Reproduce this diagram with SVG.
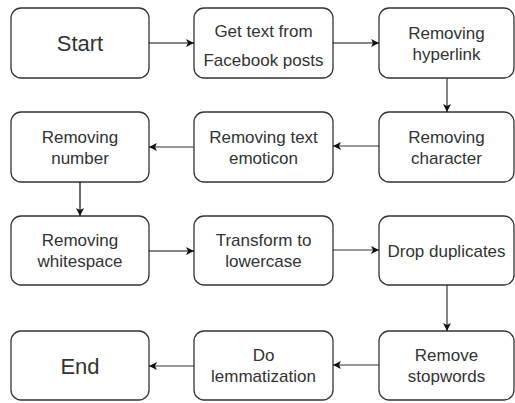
<svg xmlns="http://www.w3.org/2000/svg" width="515" height="403" viewBox="0 0 515 403">
<style>
.box{fill:#fff;stroke:#333;stroke-width:1.3}
.t{font-family:"Liberation Sans",Arial,sans-serif;font-size:17px;fill:#333;text-anchor:middle}
.big{font-size:22px}
.c{fill:none;stroke:#333;stroke-width:1.2}
.c1{stroke:#111}
</style>
<defs>
<marker id="ah" viewBox="0 0 10 10" markerUnits="userSpaceOnUse" markerWidth="9" markerHeight="8" refX="10" refY="5" orient="auto">
<path d="M0,0 L10,5 L0,10 L2.5,5 z" fill="#111"/>
</marker>
</defs>
<g id="start"><rect class="box" x="11" y="8" width="138" height="70" rx="10"/><text class="t big" x="80" y="51">Start</text></g>
<g id="gettext"><rect class="box" x="194" y="8" width="139" height="70" rx="10"/><text class="t" x="263.5" y="37">Get text from</text><text class="t" x="263.5" y="66">Facebook posts</text></g>
<g id="hyperlink"><rect class="box" x="379" y="8" width="135" height="70" rx="10"/><text class="t" x="446.5" y="38.5">Removing</text><text class="t" x="446.5" y="59.5">hyperlink</text></g>
<g id="character"><rect class="box" x="379" y="112" width="135" height="70" rx="10"/><text class="t" x="446.5" y="142.5">Removing</text><text class="t" x="446.5" y="163.5">character</text></g>
<g id="emoticon"><rect class="box" x="194" y="112" width="139" height="70" rx="10"/><text class="t" x="263.5" y="142.5">Removing text</text><text class="t" x="263.5" y="163.5">emoticon</text></g>
<g id="number"><rect class="box" x="11" y="112" width="138" height="70" rx="10"/><text class="t" x="80" y="142.5">Removing</text><text class="t" x="80" y="163.5">number</text></g>
<g id="whitespace"><rect class="box" x="11" y="216" width="138" height="69" rx="10"/><text class="t" x="80" y="246">Removing</text><text class="t" x="80" y="267">whitespace</text></g>
<g id="lowercase"><rect class="box" x="194" y="216" width="139" height="69" rx="10"/><text class="t" x="263.5" y="246">Transform to</text><text class="t" x="263.5" y="267">lowercase</text></g>
<g id="duplicates"><rect class="box" x="379" y="216" width="135" height="69" rx="10"/><text class="t" x="446.5" y="256.5">Drop duplicates</text></g>
<g id="stopwords"><rect class="box" x="379" y="331" width="135" height="69" rx="10"/><text class="t" x="446.5" y="361">Remove</text><text class="t" x="446.5" y="382">stopwords</text></g>
<g id="lemmatization"><rect class="box" x="194" y="331" width="139" height="69" rx="10"/><text class="t" x="263.5" y="361">Do</text><text class="t" x="263.5" y="382">lemmatization</text></g>
<g id="end"><rect class="box" x="11" y="331" width="138" height="69" rx="10"/><text class="t big" x="80" y="373.5">End</text></g>
<g id="connectors">
<path class="c c1" d="M149,43 H194" marker-end="url(#ah)"/>
<path class="c c1" d="M333,43 H379" marker-end="url(#ah)"/>
<path class="c" d="M447,78 V112" marker-end="url(#ah)"/>
<path class="c" d="M379,146 H333" marker-end="url(#ah)"/>
<path class="c" d="M194,147 H149" marker-end="url(#ah)"/>
<path class="c c1" d="M80,182 V216" marker-end="url(#ah)"/>
<path class="c c1" d="M149,251 H194" marker-end="url(#ah)"/>
<path class="c" d="M333,250 H379" marker-end="url(#ah)"/>
<path class="c" d="M447,285 V331" marker-end="url(#ah)"/>
<path class="c" d="M379,365 H333" marker-end="url(#ah)"/>
<path class="c" d="M194,366 H149" marker-end="url(#ah)"/>
</g>
</svg>
